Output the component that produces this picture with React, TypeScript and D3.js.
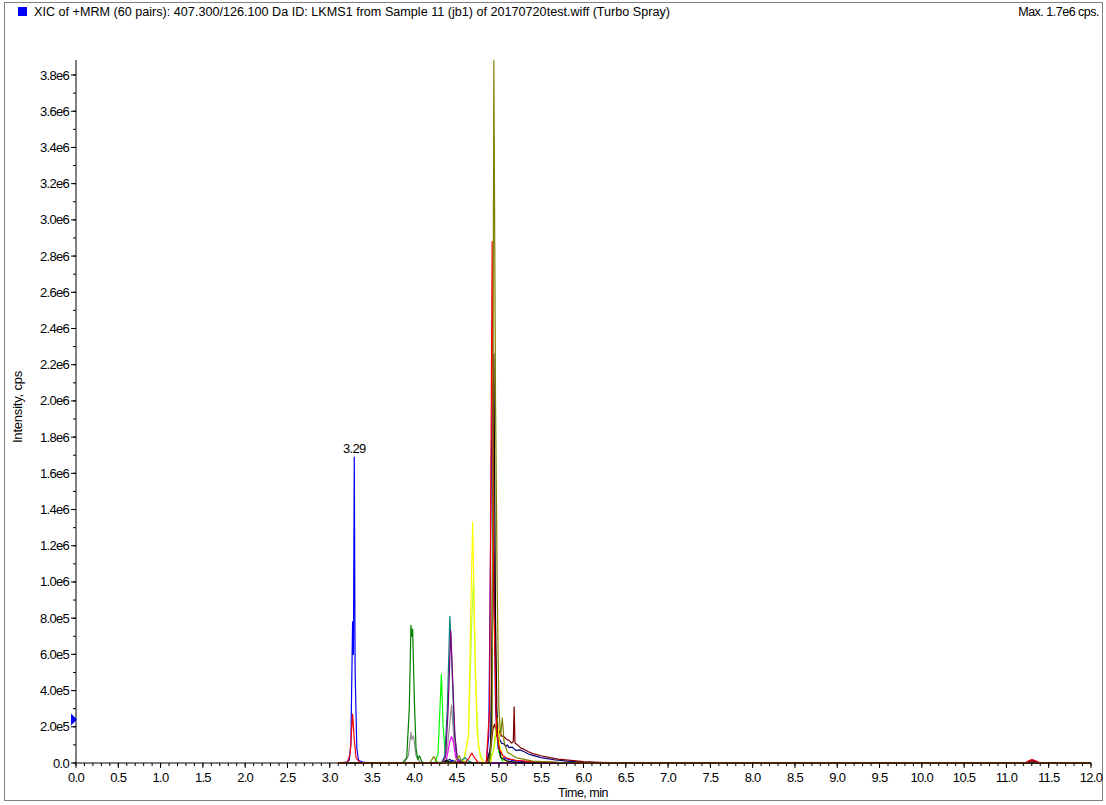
import React from "react";
import * as d3 from "d3";

// chromatogram traces, [time min, intensity cps]
const blueTrace = [
  [3.1, 0], [3.2, 5e3], [3.23, 1.5e4], [3.25, 1e5], [3.27, 7.8e5], [3.28, 6.0e5], [3.29, 1.69e6],
  [3.3, 5e5], [3.32, 8e4], [3.34, 1.5e4], [3.4, 3e3], [3.6, 0], [4.4, 0], [4.45, 1.5e4], [4.5, 0],
  [4.85, 0], [4.88, 1.5e5], [4.92, 2.1e6], [4.94, 1.2e6], [4.96, 3e5], [4.99, 8e4], [5.05, 3e4],
  [5.15, 1.5e4], [5.3, 8e3], [5.6, 3e3], [6.0, 0], [11.22, 0], [11.28, 1.2e4], [11.32, 1.4e4], [11.38, 0], [12, 0],
];
const navyTrace = [
  [3.1, 0], [4.3, 0], [4.38, 1e4], [4.42, 2e4], [4.46, 5e3], [4.85, 0], [4.9, 8e4], [4.94, 1.17e6],
  [4.97, 3e5], [5.0, 1.4e5], [5.03, 1.1e5], [5.06, 1.05e5], [5.08, 9e4], [5.1, 1e5], [5.12, 8.5e4],
  [5.16, 8.8e4], [5.2, 7e4], [5.25, 7.2e4], [5.3, 6.2e4], [5.35, 5e4], [5.4, 4.2e4], [5.5, 3e4],
  [5.65, 1.8e4], [5.8, 1e4], [6.0, 4e3], [6.4, 0], [11.24, 0], [11.3, 1.6e4], [11.36, 0], [12, 0],
];
const maroonTrace = [
  [3.1, 0], [4.85, 0], [4.9, 6e4], [4.93, 1.9e5], [4.95, 2.15e5], [4.97, 1.5e5], [5.0, 1.8e5],
  [5.03, 1.5e5], [5.06, 1.45e5], [5.09, 1.3e5], [5.12, 1.25e5], [5.15, 1.1e5], [5.17, 1.2e5],
  [5.18, 3.1e5], [5.19, 1.1e5], [5.22, 1.0e5], [5.26, 8.2e4], [5.3, 7.5e4], [5.35, 6.2e4],
  [5.4, 5.2e4], [5.5, 4e4], [5.6, 3e4], [5.7, 2.1e4], [5.85, 1.4e4], [6.0, 8e3], [6.2, 4e3],
  [6.5, 0], [11.22, 0], [11.3, 1.2e4], [11.38, 0], [12, 0],
];
const grayTrace = [
  [3.1, 0], [3.88, 0], [3.93, 4e4], [3.96, 1.7e5], [3.97, 1.3e5], [3.99, 1.5e5], [4.02, 4e4], [4.07, 0],
  [4.34, 0], [4.39, 8e4], [4.44, 3.2e5], [4.47, 1.2e5], [4.51, 1e4], [4.56, 0], [12, 0],
];
const darkGreenTrace = [
  [3.1, 0], [3.86, 0], [3.91, 3e4], [3.94, 3e5], [3.96, 7.6e5], [3.97, 7.0e5], [3.98, 7.4e5],
  [4.0, 3.5e5], [4.02, 8e4], [4.04, 2e4], [4.06, 4e4], [4.09, 5e3], [4.15, 0], [12, 0],
];
const limeTrace = [
  [3.1, 0], [4.24, 0], [4.28, 5e4], [4.32, 4.9e5], [4.34, 2e5], [4.37, 3e4], [4.42, 0],
  [4.88, 0], [4.94, 8e4], [4.97, 2e5], [5.0, 6e4], [5.05, 0], [12, 0],
];
const yellowGreenTrace = [
  [3.1, 0], [4.58, 0], [4.64, 1.5e5], [4.68, 8e5], [4.7, 1.03e6], [4.72, 5e5], [4.76, 8e4], [4.82, 0], [12, 0],
];
const yellowTrace = [
  [3.1, 0], [4.58, 0], [4.64, 1.5e5], [4.67, 9e5], [4.69, 1.33e6], [4.71, 8e5], [4.74, 1.8e5],
  [4.78, 3e4], [4.83, 0], [4.9, 0], [4.95, 1e5], [4.98, 2.5e5], [5.01, 1e5], [5.05, 2e4], [5.1, 0], [12, 0],
];
const tealTrace = [
  [3.1, 0], [4.32, 0], [4.36, 4e4], [4.39, 3e5], [4.42, 8.1e5], [4.44, 6e5], [4.47, 2e5], [4.5, 3e4],
  [4.55, 1e4], [4.6, 3e4], [4.64, 1e4], [4.7, 0], [12, 0],
];
const purpleTrace = [
  [3.1, 0], [4.33, 0], [4.37, 4e4], [4.4, 3e5], [4.43, 7.3e5], [4.45, 5e5], [4.48, 1.5e5], [4.51, 2e4], [4.57, 0], [12, 0],
];
const magentaTrace = [
  [3.1, 0], [4.34, 0], [4.38, 2e4], [4.42, 1.2e5], [4.44, 1.45e5], [4.46, 1.2e5], [4.49, 3e4], [4.53, 0], [12, 0],
];
const blackTrace = [
  [3.1, 0], [4.34, 0], [4.38, 1.5e4], [4.41, 5e3], [4.88, 0], [4.91, 1.5e5], [4.94, 2.26e6], [4.96, 8e5],
  [4.98, 1.5e5], [5.02, 3e4], [5.1, 1e4], [5.3, 0], [12, 0],
];
const redTrace = [
  [3.1, 0], [3.21, 5e3], [3.24, 5e4], [3.27, 2.7e5], [3.29, 1.3e5], [3.31, 3e4], [3.36, 0],
  [4.6, 0], [4.65, 3e4], [4.68, 5.5e4], [4.71, 3e4], [4.75, 5e3], [4.85, 0], [4.89, 3e5],
  [4.92, 2.88e6], [4.94, 9e5], [4.97, 2e5], [5.0, 8e4], [5.05, 4e4], [5.1, 2.5e4], [5.2, 1.5e4],
  [5.4, 8e3], [5.6, 4e3], [6.0, 0], [11.22, 0], [11.27, 1.4e4], [11.3, 1.9e4], [11.34, 1.4e4], [11.4, 0], [12, 0],
];
const oliveTrace = [
  [3.1, 0], [4.18, 0], [4.23, 3.5e4], [4.27, 5e3], [4.45, 0], [4.5, 2e4], [4.53, 4e4], [4.56, 1e4],
  [4.62, 0], [4.89, 0], [4.92, 2e5], [4.94, 3.88e6], [4.96, 2e6], [4.98, 9.6e5], [5.0, 3e5],
  [5.02, 1.5e5], [5.04, 2.5e5], [5.06, 1.2e5], [5.1, 6e4], [5.2, 3e4], [5.4, 1e4], [5.7, 3e3], [6.0, 0], [12, 0],
];

const traces = [
  { name: "blue", color: "#0000ff", points: blueTrace },
  { name: "navy", color: "#000080", points: navyTrace },
  { name: "maroon", color: "#800000", points: maroonTrace },
  { name: "gray", color: "#909090", points: grayTrace },
  { name: "darkgreen", color: "#008000", points: darkGreenTrace },
  { name: "lime", color: "#00ff00", points: limeTrace },
  { name: "yellowgreen", color: "#b0ff40", points: yellowGreenTrace },
  { name: "yellow", color: "#ffff00", points: yellowTrace },
  { name: "teal", color: "#008080", points: tealTrace },
  { name: "purple", color: "#800080", points: purpleTrace },
  { name: "magenta", color: "#ff00ff", points: magentaTrace },
  { name: "black", color: "#000000", points: blackTrace },
  { name: "red", color: "#ff0000", points: redTrace },
  { name: "olive", color: "#808000", points: oliveTrace },
];

const xMajorTicks = [0, 0.5, 1, 1.5, 2, 2.5, 3, 3.5, 4, 4.5, 5, 5.5, 6, 6.5, 7, 7.5, 8, 8.5, 9, 9.5, 10, 10.5, 11, 11.5, 12];
const yMajorTicks = [0, 2e5, 4e5, 6e5, 8e5, 1e6, 1.2e6, 1.4e6, 1.6e6, 1.8e6, 2e6, 2.2e6, 2.4e6, 2.6e6, 2.8e6, 3e6, 3.2e6, 3.4e6, 3.6e6, 3.8e6];
const yTickLabels = ["0.0", "2.0e5", "4.0e5", "6.0e5", "8.0e5", "1.0e6", "1.2e6", "1.4e6", "1.6e6", "1.8e6", "2.0e6", "2.2e6", "2.4e6", "2.6e6", "2.8e6", "3.0e6", "3.2e6", "3.4e6", "3.6e6", "3.8e6"];

const titleText = "XIC of +MRM (60 pairs): 407.300/126.100 Da ID: LKMS1 from Sample 11 (jb1) of 20170720test.wiff (Turbo Spray)";
const maxText = "Max. 1.7e6 cps.";
const apexLabel = { time: 3.29, value: 1.69e6, text: "3.29" };
const markerValue = 2.4e5;

const font = "'Liberation Sans', Arial, sans-serif";

const App = () => {
  const W = 1106, H = 805;
  const x = d3.scaleLinear().domain([0, 12]).range([76, 1091]);
  const y = d3.scaleLinear().domain([0, 3.883e6]).range([763, 60]);

  const line = d3.line<number[]>()
    .x(d => x(d[0]))
    .y(d => y(d[1]));

  const xMinor = d3.range(0, 121).map(i => i / 10);
  const yMinor = d3.range(0, 39).map(i => i * 1e5);

  return (
    <svg width={W} height={H} style={{ position: "absolute", left: 0, top: 0, background: "#fff" }}
      fontFamily={font}>
      <rect x={4.5} y={2.5} width={1098} height={798} fill="#fff" stroke="#808080" />

      {/* header */}
      <rect x={18} y={7} width={9} height={9} fill="#0000ff" />
      <text x={34} y={16} fontSize={12.5} textLength={636} lengthAdjust="spacingAndGlyphs">{titleText}</text>
      <text x={1099} y={16} fontSize={12.5} textAnchor="end" letterSpacing={-0.5}>{maxText}</text>

      <defs>
        <clipPath id="plotClip">
          <rect x={76} y={40} width={1020} height={724} />
        </clipPath>
      </defs>

      {/* traces */}
      <g clipPath="url(#plotClip)">
        {traces.map(t => (
          <path key={t.name} d={line(t.points) || ""} fill="none" stroke={t.color} strokeWidth={1.2}
            strokeLinejoin="round" />
        ))}
      </g>

      {/* y axis */}
      <line x1={76} x2={76} y1={y(0)} y2={60} stroke="#000" />
      {yMinor.map(v => (
        <line key={"ym" + v} x1={73} x2={76} y1={y(v)} y2={y(v)} stroke="#000" />
      ))}
      {yMajorTicks.map((v, i) => (
        <g key={"yt" + v}>
          <line x1={71} x2={76} y1={y(v)} y2={y(v)} stroke="#000" />
          <text x={69} y={y(v) + 4.5} fontSize={13} textAnchor="end" letterSpacing={-0.7}>{yTickLabels[i]}</text>
        </g>
      ))}

      {/* x axis */}
      <line x1={x(0)} x2={x(12)} y1={763} y2={763} stroke="#000" />
      {xMinor.map(v => (
        <line key={"xm" + v} x1={x(v)} x2={x(v)} y1={763} y2={766} stroke="#000" />
      ))}
      {xMajorTicks.map(v => (
        <g key={"xt" + v}>
          <line x1={x(v)} x2={x(v)} y1={763} y2={768} stroke="#000" />
          <text x={x(v)} y={782} fontSize={13} textAnchor="middle" letterSpacing={-0.7}>{v.toFixed(1)}</text>
        </g>
      ))}

      <text x={583} y={797} fontSize={12.5} textAnchor="middle" letterSpacing={-0.5}>Time, min</text>
      <text transform={`translate(22,407) rotate(-90)`} fontSize={13} textAnchor="middle" letterSpacing={-0.2}>Intensity, cps</text>

      {/* peak label */}
      <text x={x(apexLabel.time)} y={y(apexLabel.value) - 4} fontSize={13} textAnchor="middle" letterSpacing={-0.7}>{apexLabel.text}</text>

      {/* threshold marker */}
      <path d={`M${x(0) - 5},${y(markerValue) - 6} L${x(0) + 1},${y(markerValue)} L${x(0) - 5},${y(markerValue) + 6} Z`}
        fill="#0000ff" />
    </svg>
  );
};

export default App;
